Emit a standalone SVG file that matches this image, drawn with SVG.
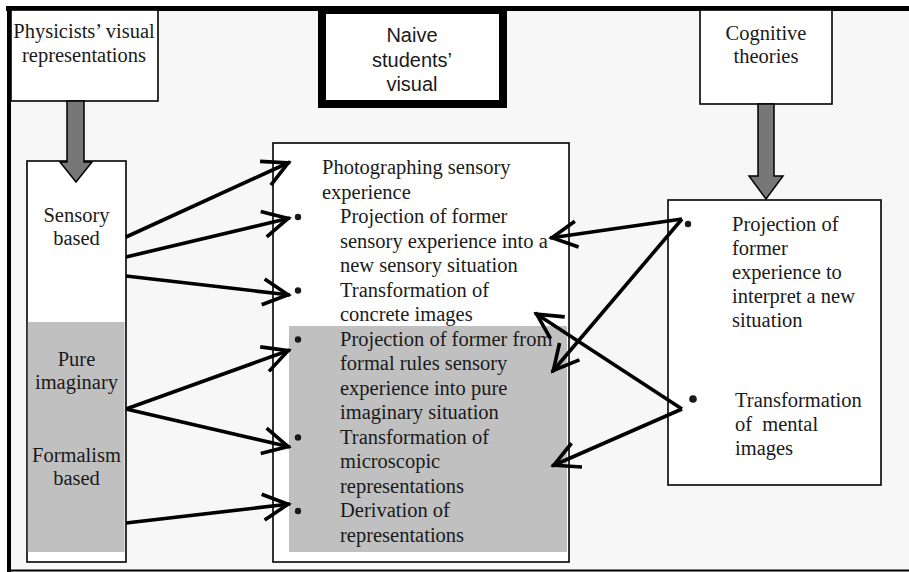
<svg xmlns="http://www.w3.org/2000/svg" width="909" height="572" viewBox="0 0 909 572">
<style>
.t{font-family:"Liberation Serif","Times New Roman",serif;font-size:20.5px;fill:#1a1a1a}
.c{text-anchor:middle}
.s{font-family:"Liberation Sans",Arial,sans-serif;font-size:20px;fill:#1a1a1a;text-anchor:middle}
.box{fill:#fff;stroke:#000;stroke-width:1.6}
.gray{fill:#c0c0c0}
.big{fill:#777;stroke:#000;stroke-width:1.5}
.con{fill:none;stroke:#000;stroke-width:3.6;marker-end:url(#ah)}
.dot{fill:#1a1a1a}
</style>
<defs>
<marker id="ah" markerUnits="userSpaceOnUse" markerWidth="40" markerHeight="40" refX="0" refY="0" orient="auto" overflow="visible">
<path d="M-27,-13 L-2,0 L-27,13" fill="none" stroke="#000" stroke-width="3.6"/>
</marker>
</defs>
<rect x="0" y="0" width="909" height="572" fill="#fff"/>
<g id="frame">
<rect x="9" y="8.5" width="910" height="570" fill="#f7f7f7"/>
<line x1="6" y1="8.5" x2="909" y2="8.5" stroke="#000" stroke-width="5"/>
<line x1="9" y1="6" x2="9" y2="572" stroke="#000" stroke-width="4"/>
<line x1="7" y1="570.5" x2="909" y2="570.5" stroke="#000" stroke-width="2"/>
</g>
<g id="physicists">
<rect class="box" x="11" y="10" width="147" height="91"/>
<text class="t c" x="84" y="38">Physicists’ visual</text>
<text class="t c" x="84" y="62">representations</text>
</g>
<g id="naive">
<rect x="322" y="10" width="181" height="94" fill="#fff" stroke="#000" stroke-width="8"/>
<text class="s" x="412" y="42">Naive</text>
<text class="s" x="412" y="67">students’</text>
<text class="s" x="412" y="91">visual</text>
</g>
<g id="cognitive">
<rect class="box" x="700" y="10" width="132" height="94"/>
<text class="t c" x="766" y="40">Cognitive</text>
<text class="t c" x="766" y="63">theories</text>
</g>
<g id="left-column">
<rect class="box" x="27" y="161" width="99" height="401"/>
<rect class="gray" x="27.8" y="322" width="96.7" height="230"/>
<text class="t c" x="76.5" y="222">Sensory</text>
<text class="t c" x="76.5" y="245">based</text>
<text class="t c" x="76.5" y="366">Pure</text>
<text class="t c" x="76.5" y="389">imaginary</text>
<text class="t c" x="76.5" y="462">Formalism</text>
<text class="t c" x="76.5" y="485">based</text>
</g>
<g id="middle-column">
<rect class="box" x="273" y="143" width="296" height="419"/>
<rect class="gray" x="289" y="326" width="278" height="226"/>
<text class="t" x="322" y="174">Photographing sensory</text>
<text class="t" x="322" y="198.5">experience</text>
<circle class="dot" cx="298" cy="217" r="3.2"/>
<text class="t" x="340" y="223">Projection of former</text>
<text class="t" x="340" y="247.5">sensory experience into a</text>
<text class="t" x="340" y="272">new sensory situation</text>
<circle class="dot" cx="298" cy="290.5" r="3.2"/>
<text class="t" x="340" y="296.5">Transformation of</text>
<text class="t" x="340" y="321">concrete images</text>
<circle class="dot" cx="298" cy="339.5" r="3.2"/>
<text class="t" x="340" y="345.5">Projection of former from</text>
<text class="t" x="340" y="370">formal rules sensory</text>
<text class="t" x="340" y="394.5">experience into pure</text>
<text class="t" x="340" y="419">imaginary situation</text>
<circle class="dot" cx="298" cy="437.5" r="3.2"/>
<text class="t" x="340" y="443.5">Transformation of</text>
<text class="t" x="340" y="468">microscopic</text>
<text class="t" x="340" y="492.5">representations</text>
<circle class="dot" cx="298" cy="511" r="3.2"/>
<text class="t" x="340" y="517">Derivation of</text>
<text class="t" x="340" y="541.5">representations</text>
</g>
<g id="right-column">
<rect class="box" x="668" y="200" width="213" height="285"/>
<circle class="dot" cx="688" cy="224" r="3.2"/>
<text class="t" x="732" y="231">Projection of</text>
<text class="t" x="732" y="255">former</text>
<text class="t" x="732" y="279">experience to</text>
<text class="t" x="732" y="303">interpret a new</text>
<text class="t" x="732" y="327">situation</text>
<circle class="dot" cx="693" cy="399" r="3.8"/>
<text class="t" x="735" y="407">Transformation</text>
<text class="t" x="735" y="431" style="white-space:pre">of  mental</text>
<text class="t" x="735" y="455">images</text>
</g>
<g id="arrow-left">
<polygon class="big" points="67,101 84,101 84,162 92,162 76,182 60,162 67,162"/>
</g>
<g id="arrow-right">
<polygon class="big" points="758,104 774,104 774,176 783,176 766,199 749,176 758,176"/>
</g>
<g id="connectors">
<line class="con" x1="126" y1="237" x2="290" y2="162"/>
<line class="con" x1="126" y1="257" x2="290" y2="218"/>
<line class="con" x1="126" y1="276" x2="290" y2="295"/>
<line class="con" x1="126" y1="409" x2="290" y2="350"/>
<line class="con" x1="126" y1="409" x2="290" y2="447"/>
<line class="con" x1="126" y1="523" x2="290" y2="504"/>
<line class="con" x1="682" y1="219" x2="550" y2="238"/>
<line class="con" x1="682" y1="219" x2="552" y2="372"/>
<line class="con" x1="682" y1="409" x2="535" y2="313"/>
<line class="con" x1="682" y1="409" x2="552" y2="466"/>
</g>
</svg>
